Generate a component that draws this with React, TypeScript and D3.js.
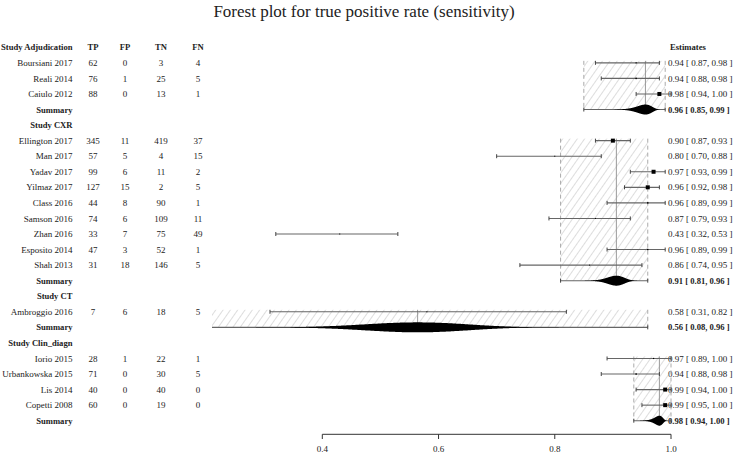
import React from "react";
import * as d3 from "d3";

// groups and studies
const groupNames = ["Study Adjudication", "Study CXR", "Study CT", "Study Clin_diagn"];
const studyNames = [
  "Boursiani 2017", "Reali 2014", "Caiulo 2012",
  "Ellington 2017", "Man 2017", "Yadav 2017", "Yilmaz 2017", "Class 2016", "Samson 2016", "Zhan 2016", "Esposito 2014", "Shah 2013",
  "Ambroggio 2016",
  "Iorio 2015", "Urbankowska 2015", "Lis 2014", "Copetti 2008",
];
const studyGroup = [0, 0, 0, 1, 1, 1, 1, 1, 1, 1, 1, 1, 2, 3, 3, 3, 3];
const tp = [62, 76, 88, 345, 57, 99, 127, 44, 74, 33, 47, 31, 7, 28, 71, 40, 60];
const fp = [0, 1, 0, 11, 5, 6, 15, 8, 6, 7, 3, 18, 6, 1, 0, 0, 0];
const tn = [3, 25, 13, 419, 4, 11, 2, 90, 109, 75, 52, 146, 18, 22, 30, 40, 19];
const fn = [4, 5, 1, 37, 15, 2, 5, 1, 11, 49, 1, 5, 5, 1, 5, 0, 0];
const est = [0.94, 0.94, 0.98, 0.9, 0.8, 0.97, 0.96, 0.96, 0.87, 0.43, 0.96, 0.86, 0.58, 0.97, 0.94, 0.99, 0.99];
const lo = [0.87, 0.88, 0.94, 0.87, 0.7, 0.93, 0.92, 0.89, 0.79, 0.32, 0.89, 0.74, 0.31, 0.89, 0.88, 0.94, 0.95];
const hi = [0.98, 0.98, 1.0, 0.93, 0.88, 0.99, 0.98, 0.99, 0.93, 0.53, 0.99, 0.95, 0.82, 1.0, 0.98, 1.0, 1.0];

// summaries (one per group)
const sumEst = [0.956, 0.906, 0.564, 0.98];
const sumLo = [0.85, 0.81, 0.08, 0.936];
const sumHi = [0.99, 0.96, 0.96, 1.0];
const sumSpread = [0.3, 0.17, 0.36, 0.35]; // logit sd of the posterior shape

const colHeads = ["TP", "FP", "TN", "FN"];
const xTicks = [0.4, 0.6, 0.8, 1.0];

const W = 738;
const H = 462;
const FONT = "'Liberation Serif', 'Times New Roman', serif";
const TXT = "#222";
const FS = 9;
const FSB = 8.6;

type Row = { kind: "head" | "study" | "summary"; g: number; i: number };

const rows: Row[] = [];
groupNames.forEach((_, gi) => {
  rows.push({ kind: "head", g: gi, i: -1 });
  studyNames.forEach((_, si) => {
    if (studyGroup[si] === gi) rows.push({ kind: "study", g: gi, i: si });
  });
  rows.push({ kind: "summary", g: gi, i: -1 });
});

const x = d3.scaleLinear().domain([0.4, 1.0]).range([322.3, 671]);
const y = d3.scaleLinear().domain([0, rows.length - 1]).range([47.3, 420.7]);
const f2 = d3.format(".2f");
const colX = [93, 125, 161, 198];
const labelX = 72.5;
const estX = 668;
const cap = 2;

function squareSide(w: number) {
  return Math.max(1, Math.min(4, 0.0144 / (w * w)));
}

// spindle shaped posterior for the summary row (normal on the logit scale)
function shapePath(g: number, cy: number) {
  const mu = Math.log(sumEst[g] / (1 - sumEst[g]));
  const s = sumSpread[g];
  const ts = d3.range(mu - 3.5 * s, mu + 3.5 * s, s / 40);
  const pts = ts.map((t) => {
    const z = (t - mu) / s;
    return { p: 1 / (1 + Math.exp(-t)), d: Math.exp(-0.5 * z * z) };
  });
  const area = d3
    .area<{ p: number; d: number }>()
    .x((d) => x(d.p))
    .y0((d) => cy - 5 * d.d)
    .y1((d) => cy + 5 * d.d)
    .curve(d3.curveBasis);
  return area(pts) || "";
}

export default function App() {
  const groupRows = groupNames.map((_, gi) => {
    const idx = rows.map((r, k) => (r.g === gi && r.kind === "study" ? k : -1)).filter((k) => k >= 0);
    const sumIdx = rows.findIndex((r) => r.g === gi && r.kind === "summary");
    return { first: idx[0], sum: sumIdx };
  });

  return (
    <svg width={W} height={H} style={{ position: "absolute", left: 0, top: 0, background: "#fff" }} fontFamily={FONT}>
      <defs>
        <pattern id="hatch" patternUnits="userSpaceOnUse" width={6} height={6} patternTransform="rotate(35)">
          <line x1={0} y1={0} x2={0} y2={6} stroke="#bbb" strokeWidth={1} />
        </pattern>
        <clipPath id="plotClip">
          <rect x={x(0.21)} y={0} width={W - x(0.21)} height={H} />
        </clipPath>
      </defs>

      <text x={364} y={17} textAnchor="middle" fontSize={17} fill={TXT}>
        Forest plot for true positive rate (sensitivity)
      </text>

      {/* left table */}
      {colHeads.map((c, k) => (
        <text key={c} x={colX[k]} y={y(0)} dy="0.35em" textAnchor="middle" fontSize={FSB} fontWeight="bold" fill={TXT}>
          {c}
        </text>
      ))}
      <text x={estX + 2} y={y(0)} dy="0.35em" fontSize={FSB} fontWeight="bold" fill={TXT}>
        Estimates
      </text>
      {rows.map((r, k) => {
        const yy = y(k);
        if (r.kind === "head")
          return (
            <text key={k} x={labelX} y={yy} dy="0.35em" textAnchor="end" fontSize={FSB} fontWeight="bold" fill={TXT}>
              {groupNames[r.g]}
            </text>
          );
        if (r.kind === "summary")
          return (
            <g key={k}>
              <text x={labelX} y={yy} dy="0.35em" textAnchor="end" fontSize={FSB} fontWeight="bold" fill={TXT}>
                Summary
              </text>
              <text x={estX} y={yy} dy="0.35em" fontSize={FSB} fontWeight="bold" fill={TXT}>
                {`${f2(sumEst[r.g])} [ ${f2(sumLo[r.g])}, ${f2(sumHi[r.g])} ]`}
              </text>
            </g>
          );
        const i = r.i;
        return (
          <g key={k}>
            <text x={labelX} y={yy} dy="0.35em" textAnchor="end" fontSize={FS} fill={TXT}>
              {studyNames[i]}
            </text>
            {[tp[i], fp[i], tn[i], fn[i]].map((v, c) => (
              <text key={c} x={colX[c]} y={yy} dy="0.35em" textAnchor="middle" fontSize={FS} fill={TXT}>
                {v}
              </text>
            ))}
            <text x={estX} y={yy} dy="0.35em" fontSize={FS} fill={TXT}>
              {`${f2(est[i])} [ ${f2(lo[i])}, ${f2(hi[i])} ]`}
            </text>
          </g>
        );
      })}

      {/* plot marks */}
      <g clipPath="url(#plotClip)">
        {groupRows.map((gr, gi) => {
          const y0 = y(gr.first) - 2;
          const y1 = y(gr.sum);
          const xl = x(sumLo[gi]);
          const xr = x(sumHi[gi]);
          return (
            <g key={gi}>
              <rect x={xl} y={y0} width={xr - xl} height={y1 - y0} fill="url(#hatch)" />
              <line x1={xl} x2={xl} y1={y0} y2={y1} stroke="#aaa" strokeDasharray="4,3" />
              <line x1={xr} x2={xr} y1={y0} y2={y1} stroke="#aaa" strokeDasharray="4,3" />
              <line x1={x(sumEst[gi])} x2={x(sumEst[gi])} y1={y0} y2={y1} stroke="#999" strokeWidth={1} />
            </g>
          );
        })}
        {rows.map((r, k) => {
          const yy = y(k);
          if (r.kind === "study") {
            const i = r.i;
            const s = squareSide(hi[i] - lo[i]);
            return (
              <g key={k}>
                <line x1={x(lo[i])} x2={x(hi[i])} y1={yy} y2={yy} stroke="#666" strokeWidth={1.1} />
                <line x1={x(lo[i])} x2={x(lo[i])} y1={yy - cap} y2={yy + cap} stroke="#444" />
                <line x1={x(hi[i])} x2={x(hi[i])} y1={yy - cap} y2={yy + cap} stroke="#444" />
                <rect x={x(est[i]) - s / 2} y={yy - s / 2} width={s} height={s} fill="#000" />
              </g>
            );
          }
          if (r.kind === "summary") {
            const g = r.g;
            return (
              <g key={k}>
                <line x1={x(sumLo[g])} x2={x(sumHi[g])} y1={yy} y2={yy} stroke="#666" strokeWidth={1.1} />
                <line x1={x(sumLo[g])} x2={x(sumLo[g])} y1={yy - cap} y2={yy + cap} stroke="#444" />
                <line x1={x(sumHi[g])} x2={x(sumHi[g])} y1={yy - cap} y2={yy + cap} stroke="#444" />
                <path d={shapePath(g, yy)} fill="#000" />
              </g>
            );
          }
          return null;
        })}
      </g>

      {/* x axis */}
      <g>
        <line x1={x(0.4)} x2={x(1.0)} y1={434.3} y2={434.3} stroke="#333" />
        {xTicks.map((t) => (
          <g key={t}>
            <line x1={x(t)} x2={x(t)} y1={434.3} y2={439} stroke="#333" />
            <text x={x(t)} y={452} textAnchor="middle" fontSize={FS} fill={TXT}>
              {f2(t).replace(/0$/, "")}
            </text>
          </g>
        ))}
      </g>
    </svg>
  );
}
